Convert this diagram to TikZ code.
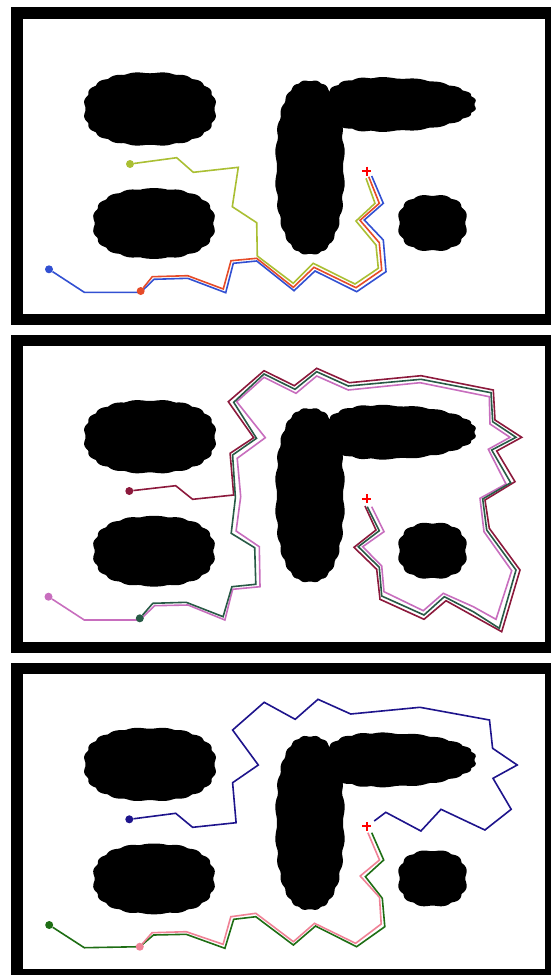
\documentclass[tikz,border=0pt]{standalone}

\definecolor{pathOlive}{HTML}{AABF33}
\definecolor{pathBlue}{HTML}{3250D2}
\definecolor{pathRed}{HTML}{E64B28}
\definecolor{pathMaroon}{HTML}{8C193C}
\definecolor{pathTeal}{HTML}{285A46}
\definecolor{pathOrchid}{HTML}{C86EBE}
\definecolor{pathNavy}{HTML}{1E148C}
\definecolor{pathGreen}{HTML}{1E6E14}
\definecolor{pathPink}{HTML}{F08296}

% obstacle: centre, half width, half height, bump count/2, taper to the right
\newcommand{\mapblob}[6]{%
  \fill[blob] plot[smooth cycle, domain=1.25:358.75, samples=144, variable=\t]
    ({#1 + #3*cos(\t)*pow(abs(cos(\t)),-0.2) + 2.4*cos(\t)*abs(sin(#5*\t))},
     {#2 + (#4*sin(\t)*pow(abs(sin(\t)),-0.2) + 1.4*sin(\t)*abs(sin(#5*\t)))*(1-#6*cos(\t))});}

\begin{document}
\begin{tikzpicture}[
    x=1pt, y=-1pt,
    frame/.style={draw=black, line width=11.5pt},
    blob/.style={fill=black},
    route/.style={line width=1.6pt, line join=miter},
    dot/.style={circle, fill=#1, inner sep=0pt, minimum size=8pt},
    goal/.style={red, line width=2pt},
  ]
  \useasboundingbox (0,0) rectangle (551,975);
  \fill[white] (0,0) rectangle (551,975);

  % the same map in each panel
  \foreach \dy in {0, 327.7, 655.4} {
    \begin{scope}[shift={(0,\dy)}]
      \draw[frame] (16.9,13) rectangle (550.5,319.7);
      \mapblob{150}{109}{64}{35.5}{10}{0}
      \mapblob{154}{223.5}{59}{34}{9}{0}
      \mapblob{310}{167.5}{32.5}{86}{12}{0}
      \mapblob{400.5}{104.5}{73.5}{25.5}{10}{0.2}
      \mapblob{432.5}{223}{32.5}{27}{6}{0}
      % goal
      \draw[goal] (362,171) -- (371,171) (366.5,166.5) -- (366.5,175.5);
    \end{scope}
  }

  % panel 1
  \node[dot=pathOlive] (oliveStart) at (130,164) {};
  \node[dot=pathBlue] (blueStart) at (49,269.3) {};
  \draw[route, pathOlive] (oliveStart) -- (176.7,157.7) -- (193.3,172.3)
    -- (238.3,167.3) -- (232.3,206.7) -- (256.7,222.7) -- (257.3,256)
    -- (293.3,283.3) -- (313.3,263.3) -- (355,284) -- (378.3,268.3) -- (376,245)
    -- (356,221) -- (375,203.3) -- (366,178.3);
  \draw[route, pathBlue] (blueStart) -- (84.3,292.3) -- (140.7,292.3)
    -- (154,279.3) -- (187.7,278.3) -- (225.7,292.7) -- (233.3,263.3)
    -- (256.7,261) -- (294,290.7) -- (315,271) -- (356.7,291.7) -- (386,271.7)
    -- (383.3,240) -- (364.3,220) -- (383.3,203.3) -- (371.7,176);
  \node[dot=pathRed] (redStart) at (140.7,291) {};
  \draw[route, pathRed] (redStart) -- (152.3,276.7) -- (187.7,275.7)
    -- (223.3,289) -- (231,260.7) -- (256.7,258.3) -- (293.3,287.3)
    -- (314,267.3) -- (356,287.7) -- (381.7,270) -- (379.3,242.7)
    -- (360,220.3) -- (379.3,203.3) -- (368.7,176.7);

  % panel 2
  \begin{scope}[shift={(0,327.7)}]
    \node[dot=pathMaroon] (maroonStart) at (129.3,163.3) {};
    \node[dot=pathOrchid] (orchidStart) at (48.5,269) {};
    \draw[route, pathMaroon] (maroonStart) -- (175.7,158) -- (192.6,171.6)
      -- (233.7,167.3) -- (230.1,125.6) -- (253.7,110) -- (228.3,74) -- (264,43)
      -- (294.3,58) -- (316.7,40.6) -- (349.3,55) -- (421,48) -- (493.3,62.3)
      -- (495,92.3) -- (521.7,109.6) -- (496.7,123.3) -- (515,154) -- (485,172.3)
      -- (489.3,200.6) -- (520,242.3) -- (501.7,304) -- (471.7,287.3) -- (446,273)
      -- (424,291.6) -- (380,271.6) -- (376.7,241.6) -- (354,219.6) -- (376,202.3)
      -- (365,178.3);
    \draw[route, pathOrchid] (orchidStart) -- (84.3,292.3) -- (139.8,292.3)
      -- (154.6,278) -- (188,277.3) -- (224.9,292.3) -- (232.6,261.6) -- (260,259)
      -- (259.3,219) -- (236.1,203.3) -- (240.7,169) -- (237.2,130.6) -- (265.3,110)
      -- (236.7,74) -- (264,49.6) -- (296,65.6) -- (316.7,48.3) -- (348.3,62.3)
      -- (420,55) -- (489.3,69) -- (490,96.3) -- (510,109.6) -- (488.3,121.6)
      -- (506,156.3) -- (480,170.6) -- (484,204) -- (511.7,243) -- (496,291.6)
      -- (473.3,279) -- (443.3,265.6) -- (423.3,283) -- (384,264) -- (381.7,238.3)
      -- (362.7,219) -- (384,204) -- (371.7,179);
    \node[dot=pathTeal] (tealStart) at (139.8,290.6) {};
    \draw[route, pathTeal] (tealStart) -- (152.8,275.6) -- (186.2,274.6)
      -- (223.1,289) -- (231.9,259) -- (255.8,256.6) -- (254.7,220) -- (231.2,205.6)
      -- (235.4,170) -- (232.6,127.3) -- (256.5,110.6) -- (233.7,74.6) -- (264,46.3)
      -- (295,61.6) -- (316.7,44) -- (348.3,58.3) -- (421,51.6) -- (491,65)
      -- (492.7,94) -- (516,109.6) -- (491.7,122.3) -- (510.7,155) -- (482.7,171.3)
      -- (486.7,202.3) -- (516,242.3) -- (499.3,300.6) -- (473.3,284) -- (444.3,269)
      -- (424,287.3) -- (381.7,268.3) -- (379.3,239.6) -- (358.3,219) -- (379.3,203)
      -- (367.3,179);
  \end{scope}

  % panel 3
  \begin{scope}[shift={(0,655.4)}]
    \node[dot=pathNavy] (navyStart) at (129.3,163.9) {};
    \node[dot=pathGreen] (greenStart) at (49.2,269.6) {};
    \draw[route, pathNavy] (navyStart) -- (175.7,157.9) -- (192.6,171.9)
      -- (236.1,167.3) -- (232.6,127.3) -- (258.3,109.6) -- (232.6,74.6)
      -- (264.2,46.9) -- (295.2,63.9) -- (318,43.9) -- (350.7,58.6) -- (419.9,51.9)
      -- (489.5,64.6) -- (492.6,92.9) -- (517.2,109.6) -- (493,122.9)
      -- (511.2,153.9) -- (484.9,174.6) -- (441,153.9) -- (420.9,175.6)
      -- (385.8,156.9) -- (374.2,165.6);
    \draw[route, pathGreen] (greenStart) -- (84.3,292.3) -- (139.8,291.3)
      -- (153.5,279.6) -- (186.2,278.9) -- (224.9,292.9) -- (233.7,263.9)
      -- (255.8,261.3) -- (293.4,289.6) -- (315.5,270.6) -- (356.6,291.3)
      -- (384.8,271.3) -- (382.3,242.9) -- (365.4,221.3) -- (383.7,204.6)
      -- (371.7,177.3);
    \node[dot=pathPink] (pinkStart) at (139.8,291.3) {};
    \draw[route, pathPink] (pinkStart) -- (152.1,277.3) -- (186.2,276.3)
      -- (223.1,288.9) -- (230.8,261.3) -- (255.8,257.9) -- (293.4,286.3)
      -- (314.5,267.9) -- (355.6,287.9) -- (381.2,268.6) -- (379.5,241.9)
      -- (360.2,220.6) -- (379.5,204.6) -- (367.9,177.3);
  \end{scope}
\end{tikzpicture}
\end{document}
